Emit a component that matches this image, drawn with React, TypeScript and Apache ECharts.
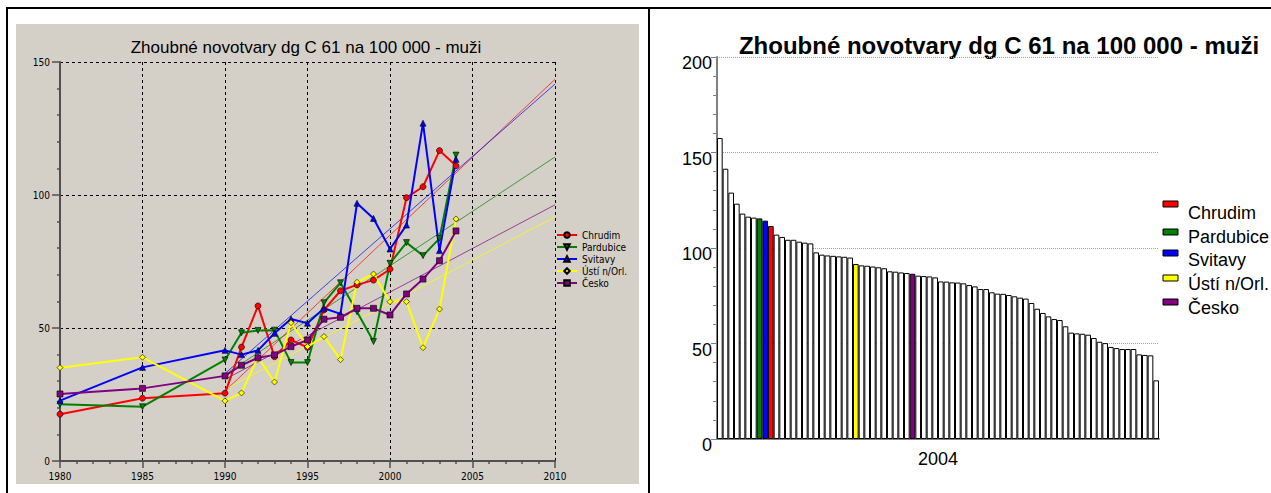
import React, { useEffect, useRef } from "react";
import * as echarts from "echarts";

// ---------- data (left panel: time series) ----------
const years = [1980, 1985, 1990, 1991, 1992, 1993, 1994, 1995, 1996, 1997, 1998, 1999, 2000, 2001, 2002, 2003, 2004];
const chrudim = [17.6, 23.6, 25.5, 42.8, 58.3, 39.2, 45.5, 42.7, 56.8, 64.0, 66.2, 68.0, 72.1, 99.0, 103.1, 116.7, 111.0];
const pardubice = [21.3, 20.4, 38.0, 48.2, 49.1, 49.2, 37.0, 37.0, 59.5, 67.0, 56.1, 44.9, 74.3, 82.1, 77.2, 83.7, 115.0];
const svitavy = [22.7, 35.2, 41.6, 40.0, 41.6, 48.0, 53.4, 51.8, 57.4, 55.3, 96.9, 91.2, 79.7, 88.7, 127.0, 79.1, 113.4];
const usti = [35.1, 39.0, 22.6, 25.6, 39.0, 29.7, 52.0, 43.0, 46.8, 38.1, 67.2, 70.3, 59.9, 59.9, 42.6, 57.1, 91.0];
const cesko = [25.2, 27.3, 32.0, 36.0, 38.8, 39.9, 43.0, 45.5, 53.3, 54.0, 57.4, 57.4, 54.9, 62.8, 68.4, 75.3, 86.5];

const seriesNames = ["Chrudim", "Pardubice", "Svitavy", "Ústí n/Orl.", "Česko"];
const seriesValues = [chrudim, pardubice, svitavy, usti, cesko];

// trend lines: value at first and last year
const trendYears = [1990, 2010];
const trendStart = [26.3, 32.5, 32.9, 27.0, 30.7];
const trendEnd = [143.5, 114.3, 141.7, 91.7, 96.3];

// ---------- data (right panel: districts in 2004, sorted) ----------
const barYear = "2004";
const barValues = [
  157.6, 141.5, 129.0, 123.2, 118.0, 116.4, 115.9, 115.5, 114.3, 111.5,
  107.0, 105.8, 104.3, 104.3, 103.3, 102.8, 102.4, 97.7, 96.5, 96.1,
  95.9, 95.6, 95.4, 95.0, 91.6, 90.9, 90.7, 90.3, 89.9, 89.4,
  87.8, 87.6, 87.2, 86.9, 86.5, 85.5, 85.3, 85.1, 84.6, 82.5,
  82.4, 82.0, 81.9, 81.5, 80.6, 79.9, 78.5, 78.5, 76.8, 76.1,
  76.0, 75.4, 74.7, 74.0, 73.5, 71.2, 68.2, 66.0, 64.2, 62.8,
  62.3, 59.0, 55.7, 55.3, 55.1, 54.6, 52.9, 50.9, 50.2, 48.2,
  47.6, 47.1, 47.1, 47.1, 44.3, 44.0, 43.8, 30.7,
];
// rank (index in barValues) of each named unit, in seriesNames order
const highlightRank = [9, 7, 8, 24, 34];

const titleText = "Zhoubné novotvary dg C 61 na 100 000 - muži";

// ---------- styles ----------
const colors = ["#ff0000", "#008000", "#0000ff", "#ffff00", "#800080"];
const symbols = ["circle", "triangle", "triangle", "diamond", "rect"];
const symbolRotate = [0, 180, 0, 0, 0];
const smallFont = "'Liberation Sans Narrow', 'DejaVu Sans Condensed', 'Liberation Sans', Arial, sans-serif";
const arial = "'Liberation Sans', Arial, sans-serif";

export default function App() {
  const ref = useRef<HTMLDivElement>(null);

  useEffect(() => {
    if (!ref.current) return;
    const chart = echarts.init(ref.current, null, { renderer: "svg" });

    const lineSeries = seriesNames.map((name, i) => ({
      name,
      type: "line",
      xAxisIndex: 0,
      yAxisIndex: 0,
      data: years.map((y, k) => [y, seriesValues[i][k]]),
      symbol: symbols[i],
      symbolRotate: symbolRotate[i],
      symbolSize: 6,
      lineStyle: { color: colors[i], width: 2 },
      itemStyle: { color: colors[i], borderColor: "#000", borderWidth: 0.6 },
      z: 5,
      silent: true,
    }));

    const trendSeries = seriesNames.map((name, i) => ({
      name: name + " trend",
      type: "line",
      xAxisIndex: 0,
      yAxisIndex: 0,
      data: [
        [trendYears[0], trendStart[i]],
        [trendYears[1], trendEnd[i]],
      ],
      showSymbol: false,
      symbol: "none",
      lineStyle: { color: colors[i], width: 1, opacity: 0.7 },
      z: 3,
      silent: true,
    }));

    const barData = barValues.map((v, k) => {
      const h = highlightRank.indexOf(k);
      return {
        value: v,
        itemStyle: { color: h >= 0 ? colors[h] : "#ffffff" },
      };
    });

    const legendRectTop = [201, 229, 250, 275, 299];
    const legendTextMid = [213, 237, 260, 284, 308];
    const rightLegend: any[] = [];
    seriesNames.forEach((name, i) => {
      rightLegend.push({
        type: "rect",
        shape: { x: 1163, y: legendRectTop[i], width: 15, height: 6 },
        style: { fill: colors[i], stroke: "#000", lineWidth: 1 },
      });
      rightLegend.push({
        type: "text",
        x: 1188,
        y: legendTextMid[i],
        style: { text: name, fontSize: 18, fontFamily: arial, fill: "#000", verticalAlign: "middle", align: "left" },
      });
    });

    const option: any = {
      animation: false,
      backgroundColor: "#ffffff",
      grid: [
        { left: 60, top: 62, width: 495, height: 399, containLabel: false },
        { left: 717, top: 57, width: 442, height: 382, containLabel: false },
      ],
      xAxis: [
        {
          type: "value",
          gridIndex: 0,
          min: 1980,
          max: 2010,
          interval: 5,
          axisLine: { show: true, lineStyle: { color: "#505050", width: 2 } },
          axisTick: { show: true, length: 7, lineStyle: { color: "#505050", width: 1.5 } },
          minorTick: { show: true, splitNumber: 5, length: 3, lineStyle: { color: "#505050", width: 1.5 } },
          axisLabel: {
            fontSize: 10,
            fontFamily: smallFont,
            color: "#000",
            margin: 10,
            formatter: (v: number) => String(v),
          },
          splitLine: { show: true, lineStyle: { color: "#000", width: 1, type: [3, 3] } },
        },
        {
          type: "category",
          gridIndex: 1,
          data: barValues.map((_, k) => String(k + 1)),
          axisLine: { show: true, lineStyle: { color: "#808080", width: 2 } },
          axisTick: { show: false },
          axisLabel: { show: false },
          splitLine: { show: false },
        },
        {
          type: "category",
          gridIndex: 1,
          position: "bottom",
          data: [barYear],
          axisLine: { show: false },
          axisTick: { show: false },
          axisLabel: { fontSize: 18, fontFamily: arial, color: "#000", margin: 11 },
          splitLine: { show: false },
        },
      ],
      yAxis: [
        {
          type: "value",
          gridIndex: 0,
          min: 0,
          max: 150,
          interval: 50,
          axisLine: { show: true, lineStyle: { color: "#505050", width: 2 } },
          axisTick: { show: true, length: 8, lineStyle: { color: "#505050", width: 1.5 } },
          minorTick: { show: true, splitNumber: 5, length: 3, lineStyle: { color: "#505050", width: 1.5 } },
          axisLabel: { fontSize: 10, fontFamily: smallFont, color: "#000", margin: 10 },
          splitLine: { show: true, lineStyle: { color: "#000", width: 1, type: [3, 3] } },
        },
        {
          type: "value",
          gridIndex: 1,
          min: 0,
          max: 200,
          interval: 50,
          axisLine: { show: true, lineStyle: { color: "#808080", width: 2 } },
          axisTick: { show: true, length: 6, lineStyle: { color: "#808080", width: 1 } },
          minorTick: { show: true, splitNumber: 5, length: 4, lineStyle: { color: "#808080", width: 1 } },
          axisLabel: {
            fontSize: 18,
            fontFamily: arial,
            color: "#000",
            margin: 5,
            verticalAlign: "top",
            lineHeight: 12,
          },
          splitLine: { show: true, lineStyle: { color: "#a0a0a0", width: 1, type: "dotted" } },
        },
      ],
      legend: {
        data: seriesNames,
        orient: "vertical",
        left: 556,
        top: 230,
        padding: 0,
        itemWidth: 20,
        itemHeight: 7,
        itemGap: 2,
        textStyle: { fontSize: 10, fontFamily: smallFont, color: "#000", lineHeight: 10 },
        selectedMode: false,
      },
      series: [
        ...trendSeries,
        ...lineSeries,
        {
          name: "2004 bars",
          type: "bar",
          xAxisIndex: 1,
          yAxisIndex: 1,
          data: barData,
          barCategoryGap: 0,
          barWidth: "100%",
          itemStyle: { borderColor: "#000", borderWidth: 1 },
          silent: true,
          z: 3,
        },
      ],
      graphic: [
        {
          type: "rect",
          z: -10,
          shape: { x: 16, y: 24, width: 623, height: 460 },
          style: { fill: "#d4d0c8" },
        },
        { type: "line", z: 100, shape: { x1: 6, y1: 8, x2: 1271, y2: 8 }, style: { stroke: "#000", lineWidth: 2 } },
        { type: "line", z: 100, shape: { x1: 7, y1: 8, x2: 7, y2: 493 }, style: { stroke: "#000", lineWidth: 2 } },
        { type: "line", z: 100, shape: { x1: 649, y1: 8, x2: 649, y2: 493 }, style: { stroke: "#000", lineWidth: 2 } },
        {
          type: "text",
          x: 306,
          y: 47,
          style: { text: titleText, fontSize: 17, fontFamily: arial, fill: "#000", align: "center", verticalAlign: "middle" },
        },
        {
          type: "text",
          x: 999,
          y: 45,
          style: { text: titleText, fontSize: 24, fontWeight: "bold", fontFamily: arial, fill: "#000", align: "center", verticalAlign: "middle" },
        },
        ...rightLegend,
      ],
    };

    chart.setOption(option);
    return () => chart.dispose();
  }, []);

  return (
    <div
      ref={ref}
      style={{ position: "fixed", left: 0, top: 0, width: 1271, height: 493, background: "#fff" }}
    />
  );
}
